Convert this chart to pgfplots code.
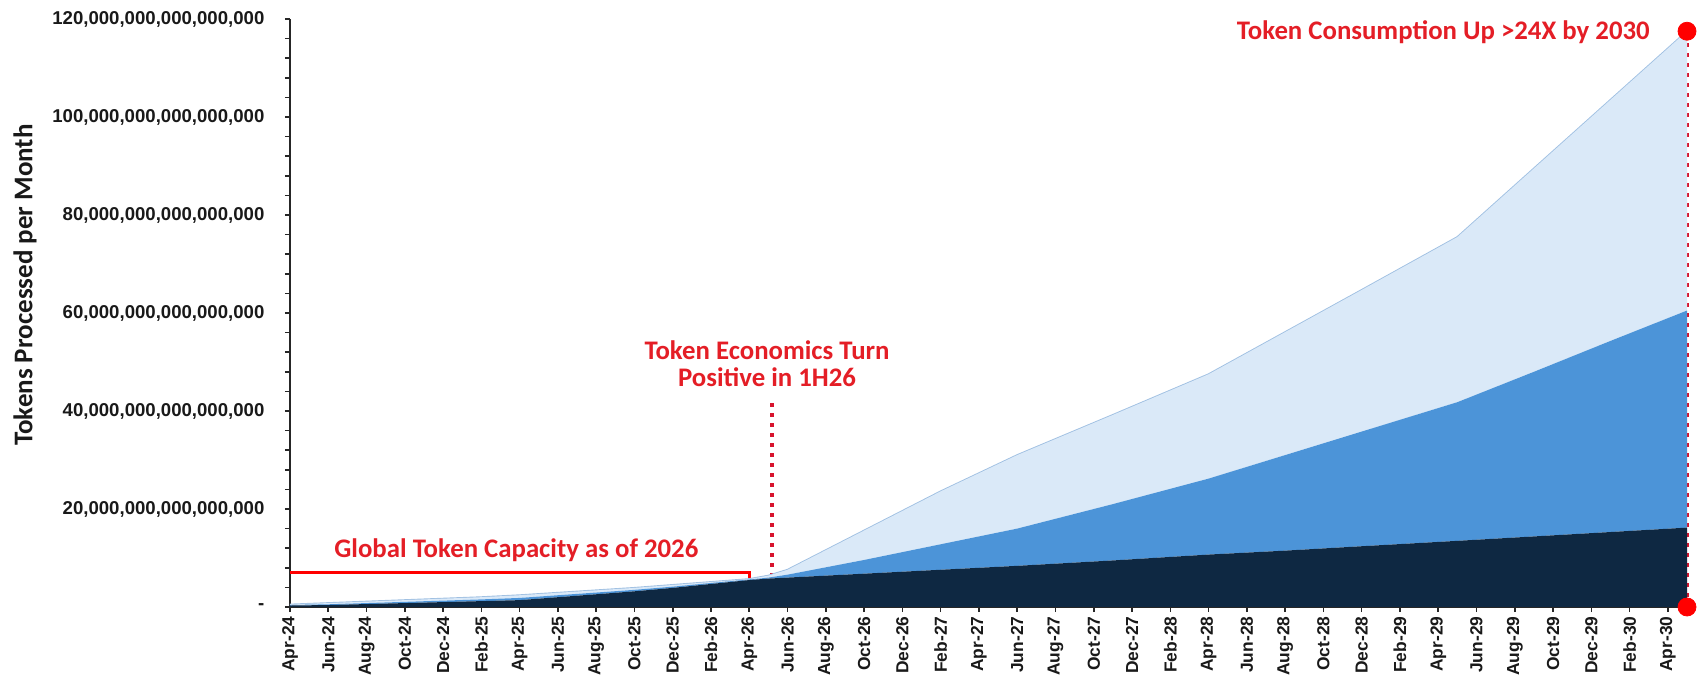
\documentclass[border=0pt]{standalone}
\usepackage{fontspec}
\setmainfont{Liberation Sans}
\newfontfamily\calib{Carlito}
\usepackage{pgfplots}
\usepackage{pgfplotstable}
\pgfplotsset{compat=1.18}

\definecolor{navy}{RGB}{14,40,66}
\definecolor{consumer}{RGB}{76,148,216}
\definecolor{enterprise}{RGB}{218,233,248}
\definecolor{entline}{RGB}{160,192,226}
\definecolor{annred}{RGB}{228,30,38}
\definecolor{dotred}{RGB}{215,20,45}
\definecolor{labnavy}{RGB}{24,44,70}
\definecolor{labwhite}{RGB}{232,242,252}

% month index (0 = Apr-24), Non-Agent, Consumer, Enterprise (x 10^15 tokens)
\pgfplotstableread{
x   N     C     E
0   0.30  0.10  0.10
2   0.40  0.15  0.25
4   0.60  0.20  0.30
6   0.80  0.25  0.35
8   1.00  0.30  0.40
10  1.20  0.35  0.45
12  1.40  0.45  0.55
14  2.00  0.40  0.50
16  2.60  0.35  0.45
18  3.20  0.30  0.40
20  3.90  0.25  0.35
22  4.70  0.20  0.20
24  5.50  0.10  0.10
25  5.80  0.20  0.40
26  6.00  0.60  1.00
30  6.80  2.80  6.00
34  7.60  5.20  10.80
38  8.40  7.60  15.00
43  9.50  11.50 18.20
48  10.70 15.50 21.30
52  11.50 19.50 25.10
56  12.40 23.40 28.90
61  13.50 28.30 33.70
65  14.40 33.60 41.50
69  15.30 39.00 49.20
73  16.20 44.30 57.00
}\tokens

\begin{document}
\begin{tikzpicture}
\begin{axis}[
  scale only axis,
  width=698.5pt, height=294pt,
  xmin=0, xmax=73, ymin=0, ymax=120,
  axis lines=left,
  axis line style={-, line width=0.9pt, black!85},
  clip=false,
  stack plots=y,
  tick align=outside,
  major tick length=2.6pt,
  minor tick length=2.6pt,
  every tick/.style={line width=0.8pt, black!85},
  xtick={0,2,...,72},
  xticklabels={Apr-24,Jun-24,Aug-24,Oct-24,Dec-24,Feb-25,Apr-25,Jun-25,Aug-25,Oct-25,Dec-25,Feb-26,Apr-26,Jun-26,Aug-26,Oct-26,Dec-26,Feb-27,Apr-27,Jun-27,Aug-27,Oct-27,Dec-27,Feb-28,Apr-28,Jun-28,Aug-28,Oct-28,Dec-28,Feb-29,Apr-29,Jun-29,Aug-29,Oct-29,Dec-29,Feb-30,Apr-30},
  xticklabel style={rotate=90, anchor=east, inner sep=0pt, font=\fontsize{8.7}{10}\selectfont\bfseries, text=black!90},
  xticklabel shift=2pt,
  ytick={0,20,...,120},
  minor y tick num=4,
  yticklabels={{-\hspace{4.5pt}},{20,000,000,000,000,000},{40,000,000,000,000,000},{60,000,000,000,000,000},{80,000,000,000,000,000},{100,000,000,000,000,000},{120,000,000,000,000,000}},
  yticklabel style={anchor=east, inner sep=0pt, font=\fontsize{9.3}{11}\selectfont\bfseries, text=black!90},
  yticklabel shift=10pt,
  ylabel={Tokens Processed per Month},
  every axis y label/.style={at={(rel axis cs:-0.1897,0.5476)}, rotate=90, anchor=center, font=\calib\fontsize{13.5}{15}\selectfont\bfseries, text=black!90},
]
\addplot[fill=navy, draw=none] table[x=x, y=N]{\tokens} \closedcycle;
\addplot[fill=consumer, draw=none] table[x=x, y=C]{\tokens} \closedcycle;
\addplot[fill=enterprise, draw=none] table[x=x, y=E]{\tokens} \closedcycle;
\addplot[draw=entline, line width=0.9pt, no marks, stack plots=false] table[x=x, y expr=\thisrow{N}+\thisrow{C}+\thisrow{E}]{\tokens};

% global capacity line
\draw[red, line width=1.5pt] (axis cs:0,7) -- (axis cs:24,7) -- (axis cs:24,0);
% 1H26 dotted line
\draw[dotred, line width=2.2pt, dash pattern=on 2pt off 3pt] (axis cs:25.2,0) -- (axis cs:25.2,42.2);
% 2030 dotted line
\draw[dotred, line width=2.2pt, dash pattern=on 2pt off 3pt] (axis cs:73,0) -- (axis cs:73,117.5);
\addplot[only marks, mark=*, mark size=4.5pt, color=red, stack plots=false] coordinates {(73,117.5) (73,0)};

\node[anchor=east, inner sep=0pt, text=annred, font=\calib\fontsize{13.4}{14}\selectfont\bfseries] at (axis cs:71.07,117.3) {Token Consumption Up >24X by 2030};
\node[align=center, inner sep=0pt, text=annred, font=\calib\fontsize{13.4}{13.6}\selectfont\bfseries] at (axis cs:24.93,49.6) {Token Economics Turn\\Positive in 1H26};
\node[anchor=west, inner sep=0pt, text=annred, font=\calib\fontsize{13.4}{14}\selectfont\bfseries] at (axis cs:2.3,11.6) {Global Token Capacity as of 2026};

\node[anchor=east, inner sep=0pt, text=labnavy, font=\calib\fontsize{15}{16}\selectfont\bfseries] at (axis cs:71.12,67.1) {Enterprise Agents};
\node[anchor=east, inner sep=0pt, text=labwhite, font=\calib\fontsize{15}{16}\selectfont\bfseries] at (axis cs:71.17,25.3) {Consumer Agents};
\node[anchor=east, inner sep=0pt, text=labwhite, font=\calib\fontsize{15}{16}\selectfont\bfseries] at (axis cs:71.17,6.9) {Non-Agent Workloads};
\end{axis}
\pgfresetboundingbox
\path[use as bounding box] (-145pt,-35.5pt) rectangle (705.5pt,303.5pt);
\end{tikzpicture}
\end{document}
